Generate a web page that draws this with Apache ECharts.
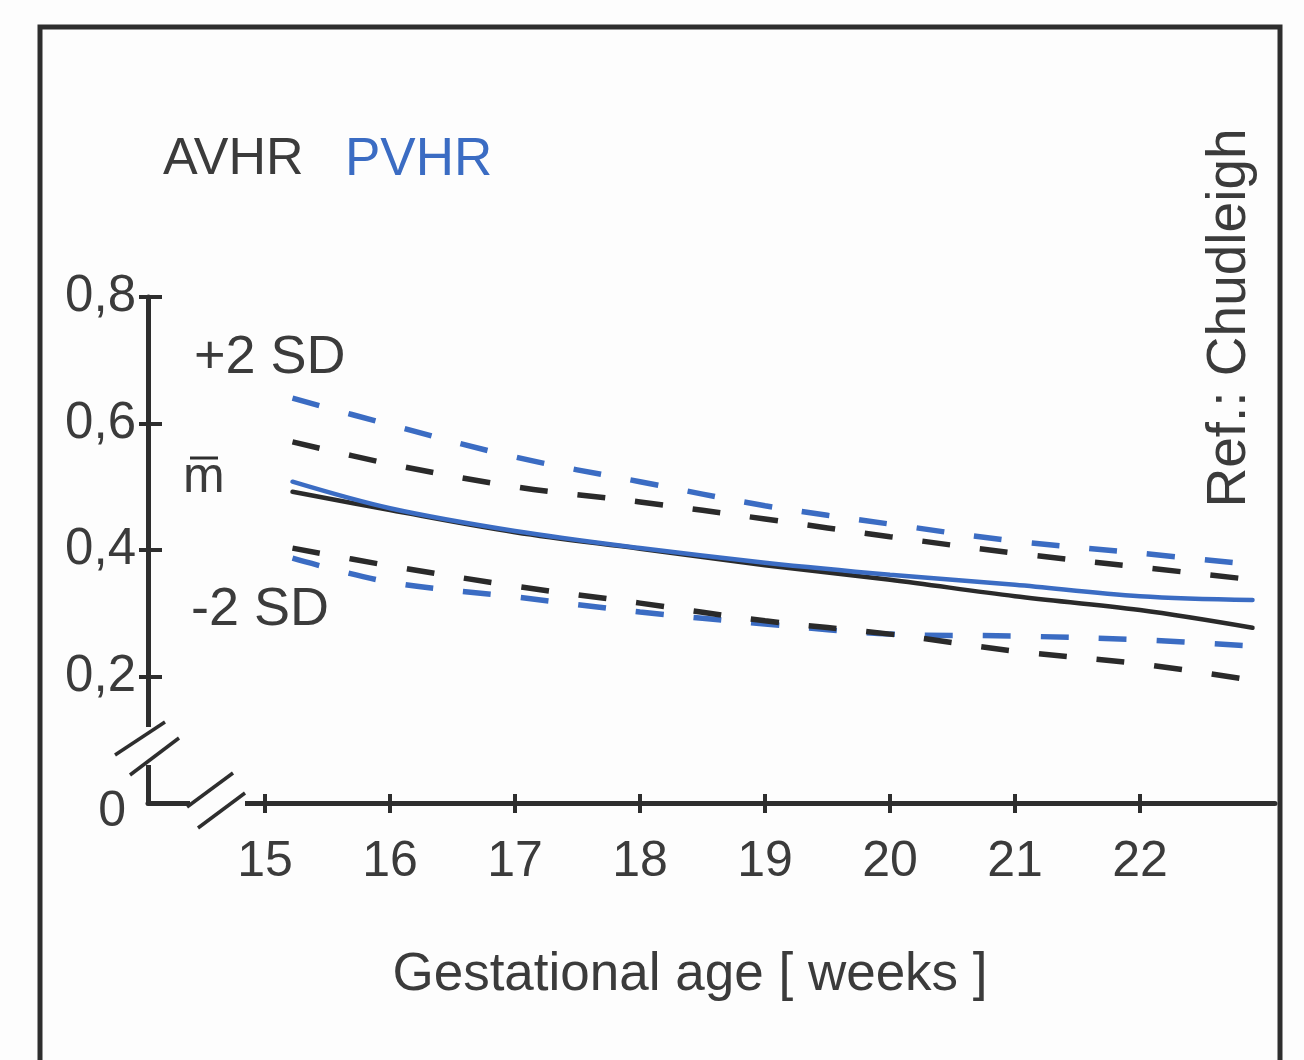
<!DOCTYPE html>
<html>
<head>
<meta charset="utf-8">
<title>AVHR / PVHR vs gestational age</title>
<script src="https://cdn.jsdelivr.net/npm/echarts@6/dist/echarts.min.js"></script>
<style>
  html, body { margin: 0; padding: 0; background: #fdfdfd; }
  #chart { width: 1304px; height: 1060px; }
</style>
</head>
<body>
<div id="chart"></div>
<script>
// Gestational age (weeks) at which each curve is sampled
const weeks = [15.22, 16, 17, 18, 19, 20, 21, 22, 22.9];

// AVHR: mean and +/- 2 SD
const avhrMean  = [0.492, 0.463, 0.428, 0.402, 0.376, 0.353, 0.327, 0.305, 0.277];
const avhrUpper = [0.571, 0.536, 0.500, 0.476, 0.449, 0.421, 0.395, 0.373, 0.353];
const avhrLower = [0.403, 0.375, 0.343, 0.316, 0.288, 0.267, 0.240, 0.220, 0.194];

// PVHR: mean and +/- 2 SD
const pvhrMean  = [0.508, 0.466, 0.430, 0.403, 0.380, 0.361, 0.345, 0.327, 0.321];
const pvhrUpper = [0.640, 0.598, 0.547, 0.508, 0.470, 0.441, 0.414, 0.395, 0.377];
const pvhrLower = [0.387, 0.349, 0.326, 0.302, 0.283, 0.267, 0.264, 0.258, 0.248];

// Axis ticks
const xTicks = [15, 16, 17, 18, 19, 20, 21, 22];
const yTicks = [0.2, 0.4, 0.6, 0.8];

const FONT = '"Liberation Sans", Arial, Helvetica, sans-serif';
const INK = '#2e2e2e';
const TEXT = '#3b3b3b';
const BLACK = '#2a2a2a';
const BLUE = '#3b6cc3';

const xMin = 14.064, xMax = 23.08;

function pairs(xs, ys) { return xs.map((x, i) => [x, ys[i]]); }

function curve(name, values, color, dashed) {
  return {
    name: name,
    type: 'line',
    xAxisIndex: 0,
    yAxisIndex: 0,
    data: pairs(weeks, values),
    smooth: 0.35,
    symbol: 'none',
    silent: true,
    clip: false,
    lineStyle: dashed
      ? { color: color, width: 5.5, type: [28, 30], cap: 'butt' }
      : { color: color, width: 4.5, cap: 'round' }
  };
}

const chart = echarts.init(document.getElementById('chart'), null, { renderer: 'canvas' });

const baseAxisLine = { show: true, lineStyle: { color: INK, width: 5 } };

chart.setOption({
  backgroundColor: '#fdfdfd',
  animation: false,
  textStyle: { fontFamily: FONT },
  grid: { left: 148, right: 29, top: 297, bottom: 257, containLabel: false },
  xAxis: [
    {
      type: 'value', min: xMin, max: xMax, position: 'bottom',
      axisLine: baseAxisLine,
      splitLine: { show: false },
      axisTick: { show: true, customValues: xTicks, length: 10, inside: false,
                  lineStyle: { color: INK, width: 4 } },
      axisLabel: { show: true, customValues: xTicks, margin: 34,
                   fontSize: 50, color: TEXT, fontFamily: FONT }
    },
    {
      // upper half of the crossing tick marks
      type: 'value', min: xMin, max: xMax, position: 'bottom',
      axisLine: { show: false },
      splitLine: { show: false },
      axisTick: { show: true, customValues: xTicks, length: 9, inside: true,
                  lineStyle: { color: INK, width: 4 } },
      axisLabel: { show: false }
    }
  ],
  yAxis: [
    {
      type: 'value', min: 0, max: 0.8, interval: 0.2, position: 'left',
      axisLine: baseAxisLine,
      splitLine: { show: false },
      axisTick: { show: true, customValues: yTicks, length: 9, inside: false,
                  lineStyle: { color: INK, width: 4 } },
      axisLabel: {
        show: true, margin: 12, fontSize: 51, color: TEXT, fontFamily: FONT,
        formatter: function (v) {
          if (v === 0) return '{z|0}';
          return v.toFixed(1).replace('.', ',');
        },
        rich: { z: { fontSize: 50, color: TEXT, fontFamily: FONT, padding: [18, 10, 0, 0] } }
      }
    },
    {
      // right half of the crossing tick marks
      type: 'value', min: 0, max: 0.8, interval: 0.2, position: 'left',
      axisLine: { show: false },
      splitLine: { show: false },
      axisTick: { show: true, customValues: yTicks, length: 14, inside: true,
                  lineStyle: { color: INK, width: 4 } },
      axisLabel: { show: false }
    }
  ],
  series: [
    curve('AVHR +2 SD', avhrUpper, BLACK, true),
    curve('PVHR +2 SD', pvhrUpper, BLUE, true),
    curve('PVHR -2 SD', pvhrLower, BLUE, true),
    curve('AVHR -2 SD', avhrLower, BLACK, true),
    curve('AVHR mean', avhrMean, BLACK, false),
    curve('PVHR mean', pvhrMean, BLUE, false)
  ]
});

// Axis origin in pixels, used to place the break marks and annotations
const O = chart.convertToPixel({ xAxisIndex: 0, yAxisIndex: 0 }, [xMin, 0]);
const ox = O[0], oy = O[1];

function seg(x1, y1, x2, y2, w) {
  return { type: 'line', z: 120, silent: true,
           shape: { x1: x1, y1: y1, x2: x2, y2: y2 },
           style: { stroke: INK, lineWidth: w || 4, lineCap: 'butt' } };
}
function label(text, x, y, size, color, extra) {
  return Object.assign({ type: 'text', z: 120, silent: true, x: x, y: y,
    style: { text: text, fill: color || TEXT, font: size + 'px ' + FONT,
             align: 'left', verticalAlign: 'middle' } }, extra || {});
}

chart.setOption({
  graphic: [
    // frame around the figure
    { type: 'rect', z: 100, silent: true,
      shape: { x: 40, y: 27, width: 1240, height: 1100 },
      style: { fill: 'none', stroke: INK, lineWidth: 5 } },

    // gaps in the axes (axis breaks)
    { type: 'rect', z: 110, silent: true,
      shape: { x: ox - 6, y: oy - 76, width: 12, height: 38 },
      style: { fill: '#fdfdfd' } },
    { type: 'rect', z: 110, silent: true,
      shape: { x: ox + 42, y: oy - 6, width: 55, height: 12 },
      style: { fill: '#fdfdfd' } },

    // double slashes on the y axis
    seg(ox - 33, oy - 48, ox + 17, oy - 81, 3.5),
    seg(ox - 18, oy - 28, ox + 31, oy - 65, 3.5),
    // double slashes on the x axis
    seg(ox + 39, oy + 4, ox + 85, oy - 30, 3.5),
    seg(ox + 50, oy + 25, ox + 97, oy - 10, 3.5),

    // legend text
    label('AVHR', 163, 160, 52, TEXT),
    label('PVHR', 345, 160, 53, BLUE),

    // curve annotations
    label('+2 SD', 194, 358, 54, TEXT),
    label('-2 SD', 191, 610, 54, TEXT),
    label('m', 183, 478, 50, TEXT),
    seg(190, 458, 218, 458, 3),

    // source note
    { type: 'text', z: 120, silent: true, x: 1230, y: 318, rotation: Math.PI / 2,
      style: { text: 'Ref.: Chudleigh', fill: TEXT, font: '55px ' + FONT,
               align: 'center', verticalAlign: 'middle' } },

    // x-axis title
    { type: 'text', z: 120, silent: true, x: 690, y: 975,
      style: { text: 'Gestational age [ weeks ]', fill: TEXT, font: '53px ' + FONT,
               align: 'center', verticalAlign: 'middle' } }
  ]
});
</script>
</body>
</html>
